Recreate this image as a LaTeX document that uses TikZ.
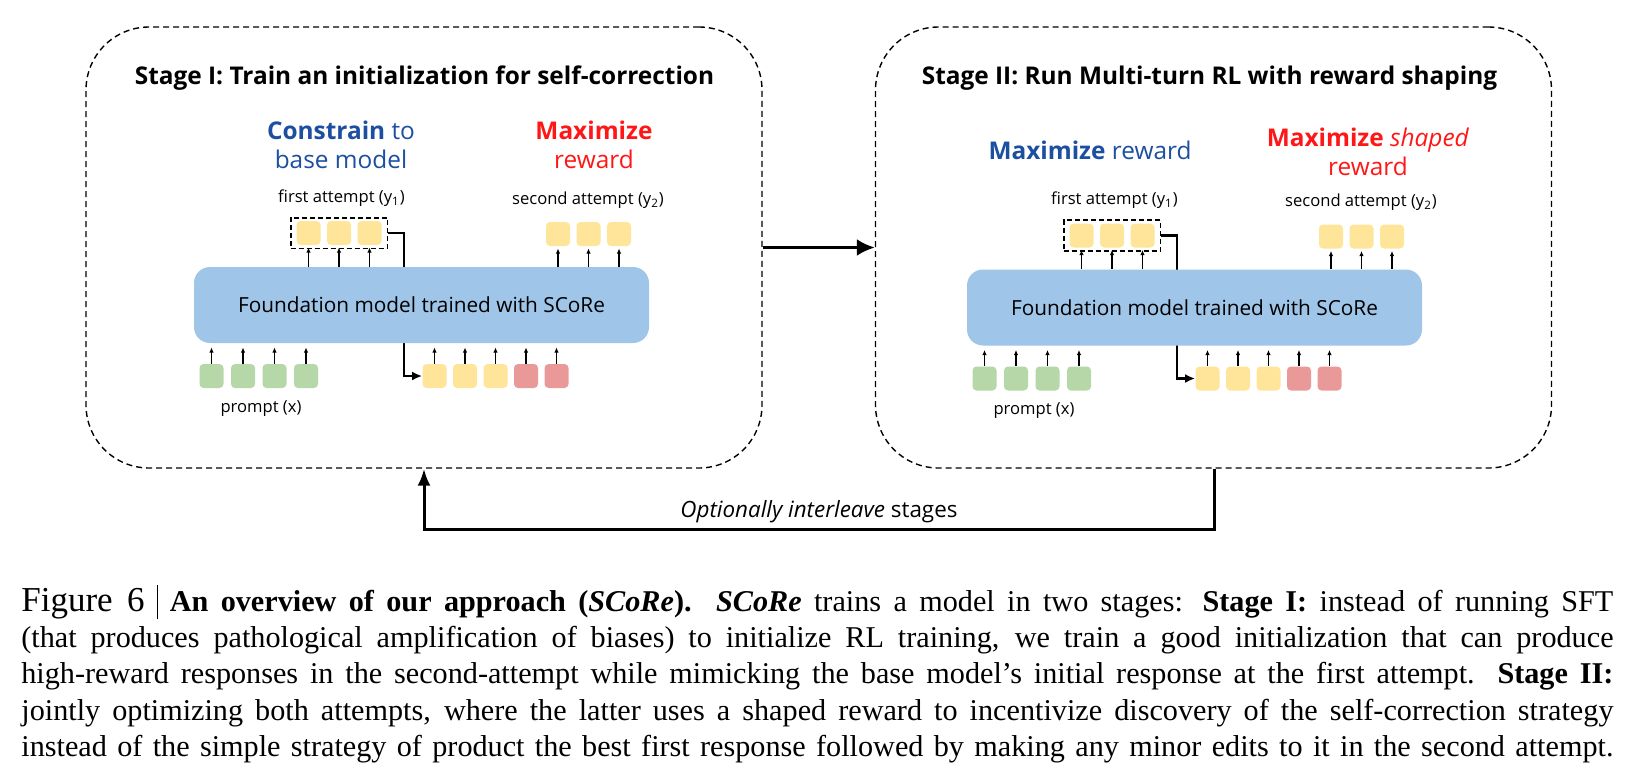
\documentclass[tikz,border=0pt]{standalone}
\usepackage{fontspec}
\setmainfont{Liberation Serif}
\newfontfamily\gsans{Open Sans}
\usepackage{tikz}
\usetikzlibrary{arrows.meta}
\usetikzlibrary{calc,fit,backgrounds}

\definecolor{tokyellow}{HTML}{FFE599}
\definecolor{tokgreen}{HTML}{B6D7A8}
\definecolor{tokred}{HTML}{EA9999}
\definecolor{modelblue}{HTML}{9FC5E8}
\definecolor{goalblue}{HTML}{1C4FA0}
\definecolor{goalred}{HTML}{FF1717}

\begin{document}
\begin{tikzpicture}[x=1pt, y=-1pt,
	panel/.style={draw, dash pattern=on 3pt off 2pt, line width=0.7pt, rounded corners=31.5pt, minimum width=338pt, minimum height=220.5pt},
	stagetitle/.style={font=\gsans\bfseries\fontsize{12.2}{14}\selectfont},
	goal/.style={align=center, font=\gsans\fontsize{12.2}{14.5}\selectfont},
	lbl/.style={font=\gsans\fontsize{8.3}{10}\selectfont},
	model/.style={fill=modelblue, rounded corners=8pt, minimum width=227.5pt, minimum height=38pt, font=\gsans\fontsize{10.4}{12}\selectfont},
	token/.style={rounded corners=2pt, minimum width=12pt, minimum height=12pt, inner sep=0pt},
	uparrow/.style={-{Latex[length=2.6pt,width=2.2pt]}, line width=0.55pt},
	flow/.style={line width=1.5pt}
	]
	\useasboundingbox (0,0) rectangle (822,383);
	
	\node[panel] (stage1) at (212,123.75) {};
	\node[panel] (stage2) at (606.75,123.75) {};
	\node[stagetitle] (title1) at (212.25,39) {Stage I: Train an initialization for self-correction};
	\node[stagetitle] (title2) at (604.75,39) {Stage II: Run Multi-turn RL with reward shaping};
	
	\node[goal, text=goalblue] (goal1a) at (170.5,72.25) {\textbf{Constrain} to\\base model};
	\node[goal, text=goalred] (goal1b) at (297,72.25) {\textbf{Maximize}\\reward};
	\node[goal, text=goalblue] (goal2a) at (545,75) {\textbf{Maximize} reward};
	\node[goal, text=goalred] (goal2b) at (684,76) {\textbf{Maximize} \textit{shaped}\\reward};
	
	\foreach \s/\cx/\cy in {1/210.75/152.5, 2/597.25/153.75} {
		\begin{scope}[shift={(\cx,\cy)}]
			\node[model] (model\s) at (0,0) {Foundation model trained with SCoRe};
			\foreach \i/\dx in {1/-56.5, 2/-41.25, 3/-26}
				\node[token, fill=tokyellow] (first\s-\i) at (\dx,-36) {};
			\foreach \i/\dx in {1/68.25, 2/83.5, 3/98.75}
				\node[token, fill=tokyellow] (second\s-\i) at (\dx,-35.5) {};
			\foreach \i/\dx in {1/-105, 2/-89.25, 3/-73.5, 4/-57.75}
				\node[token, fill=tokgreen] (prompt\s-\i) at (\dx,35.5) {};
			\foreach \i/\dx/\c in {1/6.5/tokyellow, 2/21.75/tokyellow, 3/37/tokyellow, 4/52.25/tokred, 5/67.5/tokred}
				\node[token, fill=\c] (ctx\s-\i) at (\dx,35.5) {};
			\node[draw, dash pattern=on 2.5pt off 1.5pt, line width=0.9pt, inner xsep=2.75pt, inner ysep=1.5pt, fit=(first\s-1)(first\s-3)] (box\s) {};
			\node[lbl] (firstlbl\s) at (-40,-53.5) {first attempt (y\textsubscript{1})};
			\node[lbl] (secondlbl\s) at (83.25,-52.5) {second attempt (y\textsubscript{2})};
			\node[lbl] (promptlbl\s) at (-80.25,51.75) {prompt (x)};
			\coordinate (turn\s) at (-8.75,0);
			\begin{scope}[on background layer]
				\draw[line width=1.4pt, -{Latex[length=5pt,width=4.5pt]}] (box\s.east) -| (turn\s) |- (ctx\s-1.west);
			\end{scope}
			\foreach \i in {1,2,3} {
				\draw[uparrow] (model\s.north -| first\s-\i) -- ($(first\s-\i.south)+(0,1)$);
				\draw[uparrow] (model\s.north -| second\s-\i) -- ($(second\s-\i.south)+(0,1)$);
			}
			\foreach \i in {1,...,4}
				\draw[uparrow] (prompt\s-\i.north) -- ($(model\s.south -| prompt\s-\i)+(0,2)$);
			\foreach \i in {1,...,5}
				\draw[uparrow] (ctx\s-\i.north) -- ($(model\s.south -| ctx\s-\i)+(0,2)$);
		\end{scope}
	}
	
	\draw[flow, -{Latex[length=9pt,width=8.5pt]}] (stage1.east) -- (stage2.west);
	\coordinate (loop) at (607,264.5);
	\draw[flow, -{Latex[length=8.5pt,width=6.5pt]}] (stage2.south -| loop) -- (loop) -| (stage1.south)
		node[pos=0.25, anchor=south, inner sep=0pt, yshift=2.25pt, font=\gsans\fontsize{11.2}{13}\selectfont] {\textit{Optionally interleave} stages};
	
	\node[anchor=north west, inner sep=0pt, text width=796pt, align=justify, font=\fontsize{15.1}{18.1}\selectfont] (caption) at (10.5,292.5) {\tolerance=10000\hyphenpenalty=10000
		{\fontsize{17.5}{18}\selectfont Figure 6}\hspace{6pt}\rule[-4pt]{0.6pt}{17pt}\hspace{6pt}\textbf{An overview of our approach (\textit{SCoRe}).} \textbf{\textit{SCoRe}} trains a model in two stages: \textbf{Stage I:} instead of running SFT\linebreak
		(that produces pathological amplification of biases) to initialize RL training, we train a good initialization that can produce\linebreak
		high-reward responses in the second-attempt while mimicking the base model’s initial response at the first attempt. \textbf{Stage II:}\linebreak
		jointly optimizing both attempts, where the latter uses a shaped reward to incentivize discovery of the self-correction strategy\linebreak
		instead of the simple strategy of product the best first response followed by making any minor edits to it in the second attempt.\parfillskip=0pt\par};
\end{tikzpicture}
\end{document}
